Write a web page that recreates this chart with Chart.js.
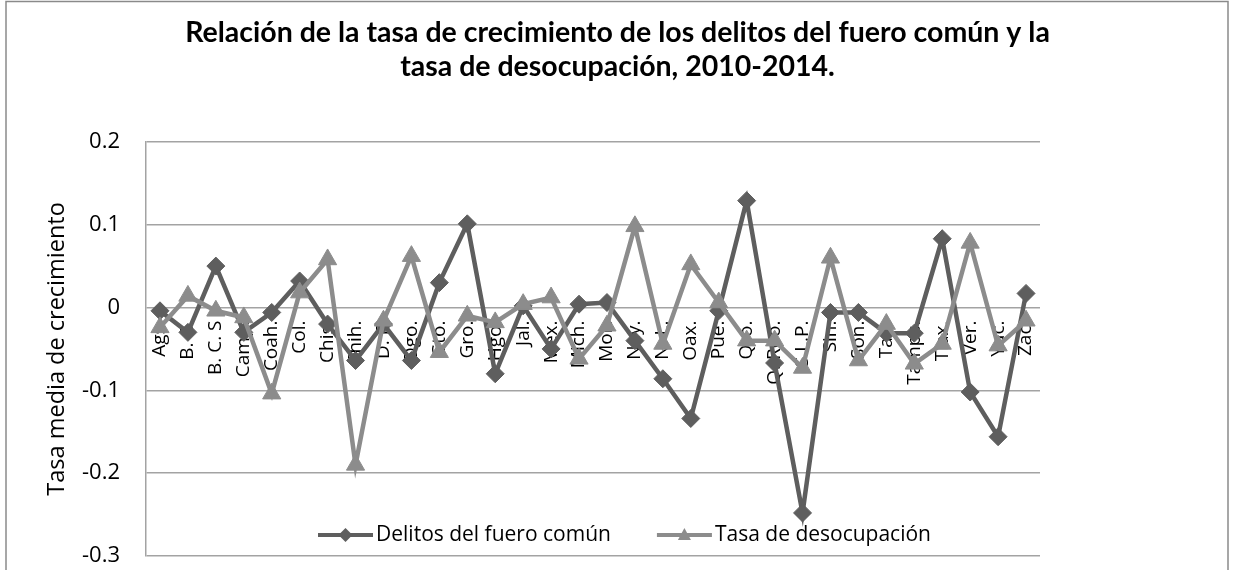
<!DOCTYPE html>
<html>
<head>
<meta charset="utf-8">
<script src="https://cdn.jsdelivr.net/npm/chart.js@4.4.0/dist/chart.umd.min.js"></script>
<style>
  html, body { margin: 0; padding: 0; background: #fff; }
  #wrap { width: 1235px; height: 570px; }
</style>
</head>
<body>
<div id="wrap"><canvas id="chart" width="1235" height="570"></canvas></div>
<script>
// categories (states) and the two series
const estados = ['Ags.', 'B. C.', 'B. C. S', 'Camp.', 'Coah.', 'Col.', 'Chis.', 'Chih.', 'D. F.', 'Dgo.',
  'Gto.', 'Gro.', 'Hgo.', 'Jal.', 'Méx.', 'Mich.', 'Mor.', 'Nay.', 'N. L.', 'Oax.', 'Pue.', 'Qro.',
  'Q. Roo.', 'S.L.P.', 'Sin.', 'Son.', 'Tab.', 'Tamps.', 'Tlax.', 'Ver.', 'Yuc.', 'Zac.'];

const delitos = [-0.004, -0.030, 0.050, -0.030, -0.006, 0.032, -0.020, -0.064, -0.020, -0.064,
  0.030, 0.101, -0.080, 0.002, -0.050, 0.004, 0.006, -0.040, -0.086, -0.134, -0.004, 0.129,
  -0.067, -0.248, -0.006, -0.006, -0.031, -0.031, 0.083, -0.102, -0.156, 0.017];

const desocupacion = [-0.024, 0.014, -0.004, -0.012, -0.104, 0.018, 0.058, -0.190, -0.016, 0.062,
  -0.054, -0.010, -0.018, 0.004, 0.012, -0.062, -0.022, 0.098, -0.044, 0.052, 0.006, -0.040,
  -0.040, -0.073, 0.060, -0.064, -0.020, -0.068, -0.044, 0.078, -0.046, -0.016];

const yMin = -0.3, yMax = 0.2, yStep = 0.1;

const titulo = ['Relación de la tasa de crecimiento de los delitos del fuero común y la',
  'tasa de desocupación, 2010-2014.'];
const tituloY = 'Tasa media de crecimiento';
const series = ['Delitos del fuero común', 'Tasa de desocupación'];

const DARK = '#5e5e5e';
const LIGHT = '#8c8c8c';
const GRID = '#a3a3a3';
const FONT = 'Open Sans';

// frame around the chart, title spanning the full width, legend inside plot
const extras = {
  id: 'extras',
  afterLayout(chart) {
    const t = chart.titleBlock;
    t.left = 0;
    t.right = chart.width;
    t.width = chart.width;
  },
  beforeDraw(chart) {
    const ctx = chart.ctx;
    ctx.save();
    ctx.strokeStyle = '#8a8a8a';
    ctx.lineWidth = 1.5;
    ctx.strokeRect(6, 1.5, 1222, 600);
    ctx.restore();
  },
  afterDraw(chart) {
    const ctx = chart.ctx;
    const area = chart.chartArea;
    ctx.save();
    ctx.font = '21px "' + FONT + '"';
    const w1 = ctx.measureText(series[0]).width;
    const w2 = ctx.measureText(series[1]).width;
    const total = 58 + w1 + 46 + 58 + w2;
    let x = chart.width / 2 + 7 - total / 2;
    const y = area.bottom - 21;
    const items = [[series[0], DARK, 'diamond', w1], [series[1], LIGHT, 'triangle', w2]];
    items.forEach(([txt, col, shape, w]) => {
      ctx.strokeStyle = col;
      ctx.fillStyle = col;
      ctx.lineWidth = 4;
      ctx.beginPath();
      ctx.moveTo(x, y);
      ctx.lineTo(x + 55, y);
      ctx.stroke();
      const cx = x + 27.5;
      ctx.beginPath();
      if (shape === 'diamond') {
        ctx.moveTo(cx, y - 7); ctx.lineTo(cx + 7, y); ctx.lineTo(cx, y + 7); ctx.lineTo(cx - 7, y);
      } else {
        ctx.moveTo(cx, y - 7); ctx.lineTo(cx + 6.5, y + 5); ctx.lineTo(cx - 6.5, y + 5);
      }
      ctx.closePath();
      ctx.fill();
      ctx.fillStyle = '#000';
      ctx.textBaseline = 'middle';
      ctx.fillText(txt, x + 58, y);
      x += 58 + w + 46;
    });
    ctx.restore();
  }
};

new Chart(document.getElementById('chart'), {
  type: 'line',
  data: {
    labels: estados,
    datasets: [
      {
        label: series[0],
        data: delitos,
        borderColor: DARK,
        backgroundColor: DARK,
        borderWidth: 4.5,
        pointStyle: 'rectRot',
        pointRadius: 9,
        pointBorderWidth: 1,
        tension: 0,
        order: 2
      },
      {
        label: series[1],
        data: desocupacion,
        borderColor: LIGHT,
        backgroundColor: LIGHT,
        borderWidth: 4.5,
        pointStyle: 'triangle',
        pointRadius: 10.5,
        pointBorderWidth: 1,
        tension: 0,
        order: 1
      }
    ]
  },
  options: {
    responsive: false,
    animation: false,
    layout: { padding: { left: 0, right: 195, top: 0, bottom: 14 } },
    plugins: {
      legend: { display: false },
      tooltip: { enabled: false },
      title: {
        display: true,
        text: titulo,
        color: '#000',
        font: { family: 'Lato', size: 28.5, weight: 'bold', lineHeight: 1.19 },
        padding: { top: 16, bottom: 58 }
      }
    },
    scales: {
      x: {
        position: { y: 0 },
        offset: true,
        z: 1,
        grid: { display: false, drawTicks: false },
        border: { display: false },
        ticks: {
          autoSkip: false,
          minRotation: 90,
          maxRotation: 90,
          padding: 13,
          color: '#000',
          font: { family: FONT, size: 19 }
        },
        afterFit: s => { s.height = 0; }
      },
      y: {
        min: yMin,
        max: yMax,
        ticks: { stepSize: yStep, padding: 26, color: '#000', font: { family: FONT, size: 22 } },
        grid: { color: GRID, lineWidth: 1.5, drawTicks: false },
        border: { color: GRID, width: 1.5 },
        title: {
          display: true,
          text: tituloY,
          color: '#000',
          font: { family: FONT, size: 23.5 },
          padding: { top: 43, bottom: 0 }
        },
        afterFit: s => {
          s.width = 146;
          s.paddingTop = 0;
          s.paddingBottom = 0;
        }
      }
    }
  },
  plugins: [extras]
});
</script>
</body>
</html>
